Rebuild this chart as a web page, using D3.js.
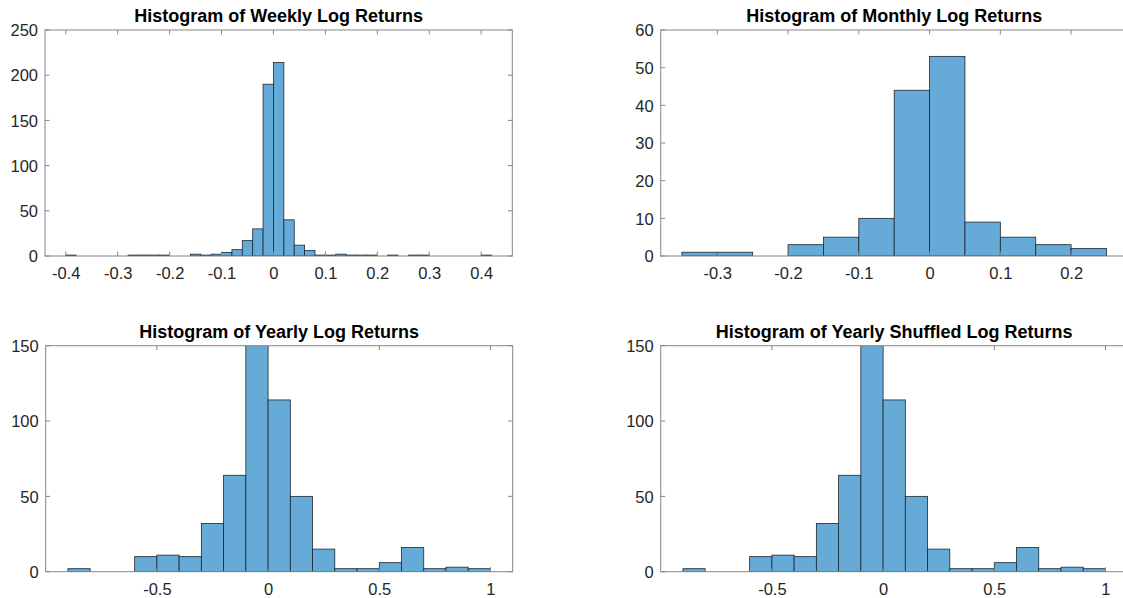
<!DOCTYPE html>
<html><head><meta charset="utf-8">
<script src="https://cdn.jsdelivr.net/npm/d3@7"></script>
<style>
html,body{margin:0;padding:0;background:#fff;}
svg{display:block;font-family:"Liberation Sans",Arial,Helvetica,sans-serif;}
</style></head>
<body>
<svg id="chart" width="1123" height="598"></svg>
<script>
// ---------- DATA ----------
const weeklyEdges = [-0.40,-0.38,-0.36,-0.34,-0.32,-0.30,-0.28,-0.26,-0.24,-0.22,-0.20,-0.18,-0.16,-0.14,-0.12,-0.10,-0.08,-0.06,-0.04,-0.02,0.00,0.02,0.04,0.06,0.08,0.10,0.12,0.14,0.16,0.18,0.20,0.22,0.24,0.26,0.28,0.30,0.32,0.34,0.36,0.38,0.40,0.42];
const weeklyCounts = [1,0,0,0,0,0,1,1,1,1,0,0,2,1,2,4,7,17,30,190,214,40,12,6,1,1,2,1,1,1,0,1,0,1,1,0,0,0,0,0,1];
const weeklyXTicks = [-0.4,-0.3,-0.2,-0.1,0,0.1,0.2,0.3,0.4];
const weeklyYTicks = [0,50,100,150,200,250];

const monthlyEdges = [-0.35,-0.30,-0.25,-0.20,-0.15,-0.10,-0.05,0.00,0.05,0.10,0.15,0.20,0.25];
const monthlyCounts = [1,1,0,3,5,10,44,53,9,5,3,2];
const monthlyXTicks = [-0.3,-0.2,-0.1,0,0.1,0.2];
const monthlyYTicks = [0,10,20,30,40,50,60];

const yearlyEdges = [-0.9,-0.8,-0.7,-0.6,-0.5,-0.4,-0.3,-0.2,-0.1,0.0,0.1,0.2,0.3,0.4,0.5,0.6,0.7,0.8,0.9,1.0];
const yearlyCounts = [2,0,0,10,11,10,32,64,175,114,50,15,2,2,6,16,2,3,2];
const shuffledEdges = [-0.9,-0.8,-0.7,-0.6,-0.5,-0.4,-0.3,-0.2,-0.1,0.0,0.1,0.2,0.3,0.4,0.5,0.6,0.7,0.8,0.9,1.0];
const shuffledCounts = [2,0,0,10,11,10,32,64,175,114,50,15,2,2,6,16,2,3,2];
const yearlyXTicks = [-0.5,0,0.5,1];
const yearlyYTicks = [0,50,100,150];

const titles = ["Histogram of Weekly Log Returns","Histogram of Monthly Log Returns","Histogram of Yearly Log Returns","Histogram of Yearly Shuffled Log Returns"];

// ---------- LAYOUT ----------
const panels = [
  {title:titles[0], edges:weeklyEdges, counts:weeklyCounts, xt:weeklyXTicks, yt:weeklyYTicks, xd:[-0.44,0.46], yd:[0,250], L:45, R:512.3, T:30, B:256},
  {title:titles[1], edges:monthlyEdges, counts:monthlyCounts, xt:monthlyXTicks, yt:monthlyYTicks, xd:[-0.38,0.28], yd:[0,60], L:660.7, R:1127.7, T:30, B:256},
  {title:titles[2], edges:yearlyEdges, counts:yearlyCounts, xt:yearlyXTicks, yt:yearlyYTicks, xd:[-1,1.1], yd:[0,150], L:45.7, R:512.7, T:345.7, B:571.7},
  {title:titles[3], edges:shuffledEdges, counts:shuffledCounts, xt:yearlyXTicks, yt:yearlyYTicks, xd:[-1,1.1], yd:[0,150], L:660.7, R:1127.7, T:345.7, B:571.7}
];

const svg = d3.select("#chart");
const fmt = v => (v===0 ? "0" : String(+v.toFixed(2)));
const tickLen = 4.5;
const axisColor = "#858585";
const labelColor = "#262626";

panels.forEach((p,i) => {
  const x = d3.scaleLinear().domain(p.xd).range([p.L,p.R]);
  const y = d3.scaleLinear().domain(p.yd).range([p.B,p.T]);
  const g = svg.append("g");
  const cid = "clip"+i;
  svg.append("clipPath").attr("id",cid).append("rect")
    .attr("x",p.L).attr("y",p.T).attr("width",p.R-p.L).attr("height",p.B-p.T);

  const bins = p.counts.map((c,k)=>({x0:p.edges[k], x1:p.edges[k+1], c:c})).filter(d=>d.c>0);
  g.append("g").attr("clip-path",`url(#${cid})`).selectAll("rect").data(bins).join("rect")
    .attr("x",d=>x(d.x0)).attr("width",d=>x(d.x1)-x(d.x0))
    .attr("y",d=>y(d.c)).attr("height",d=>y(0)-y(d.c))
    .attr("fill","#66aad7").attr("stroke","#1c2630").attr("stroke-width",0.8);

  // frame (box on)
  g.append("rect").attr("x",p.L).attr("y",p.T).attr("width",p.R-p.L).attr("height",p.B-p.T)
    .attr("fill","none").attr("stroke",axisColor).attr("stroke-width",1);

  // x ticks (bottom & top, inward)
  const xa = d3.axisBottom(x).tickValues(p.xt).tickSize(0).tickFormat(fmt);
  p.xt.forEach(v=>{
    g.append("line").attr("x1",x(v)).attr("x2",x(v)).attr("y1",p.B).attr("y2",p.B-tickLen).attr("stroke",axisColor);
    g.append("line").attr("x1",x(v)).attr("x2",x(v)).attr("y1",p.T).attr("y2",p.T+tickLen).attr("stroke",axisColor);
  });
  const gx = g.append("g").attr("transform",`translate(0,${p.B})`).call(xa);
  gx.select(".domain").remove();
  gx.selectAll("text").attr("fill",labelColor).attr("font-size",16.5).attr("dy",0).attr("y",23)
    .attr("font-family","'Liberation Sans',Arial,sans-serif");

  p.yt.forEach(v=>{
    g.append("line").attr("x1",p.L).attr("x2",p.L+tickLen).attr("y1",y(v)).attr("y2",y(v)).attr("stroke",axisColor);
    g.append("line").attr("x1",p.R).attr("x2",p.R-tickLen).attr("y1",y(v)).attr("y2",y(v)).attr("stroke",axisColor);
  });
  const ya = d3.axisLeft(y).tickValues(p.yt).tickSize(0).tickFormat(fmt);
  const gy = g.append("g").attr("transform",`translate(${p.L},0)`).call(ya);
  gy.select(".domain").remove();
  gy.selectAll("text").attr("fill",labelColor).attr("font-size",16.5).attr("x",-7).attr("dy","0.35em")
    .attr("font-family","'Liberation Sans',Arial,sans-serif");

  g.append("text").attr("x",(p.L+p.R)/2).attr("y",p.T-8).attr("text-anchor","middle")
    .attr("font-size",18).attr("font-weight","bold").attr("fill","#000").text(p.title);
});
</script>
</body></html>
